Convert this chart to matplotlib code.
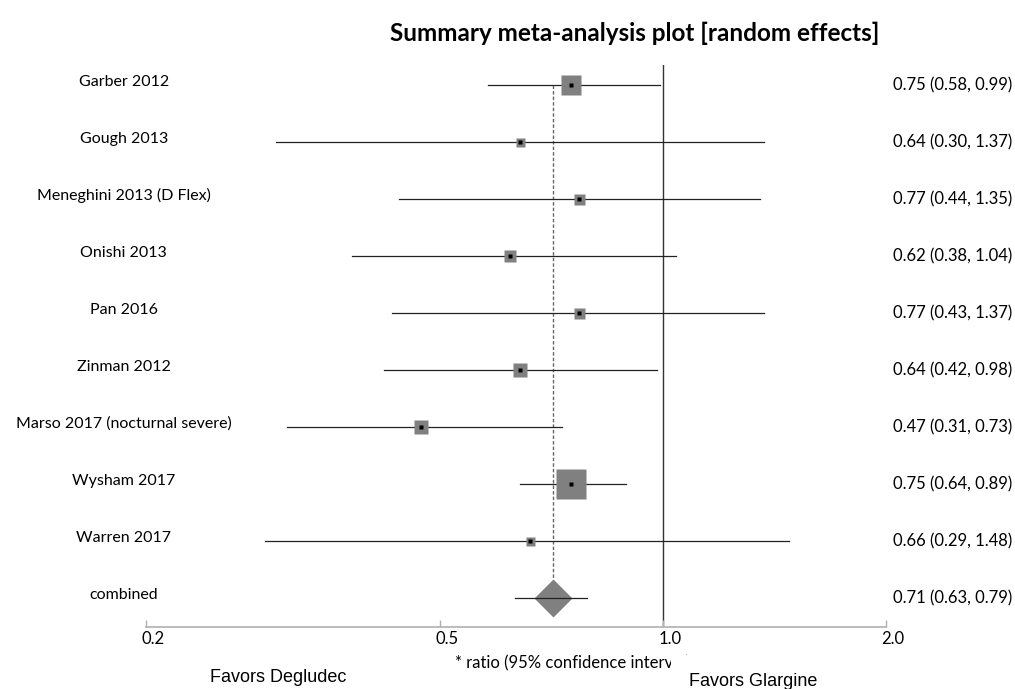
import numpy as np
import matplotlib
matplotlib.use("Agg")
import matplotlib.pyplot as plt
import matplotlib.transforms as mtransforms

# study data (ratio, lower, upper), box size in px
studies = ["Garber 2012", "Gough 2013", "Meneghini 2013 (D Flex)", "Onishi 2013",
           "Pan 2016", "Zinman 2012", "Marso 2017 (nocturnal severe)",
           "Wysham 2017", "Warren 2017"]
est = [0.75, 0.64, 0.77, 0.62, 0.77, 0.64, 0.47, 0.75, 0.66]
lo = [0.58, 0.30, 0.44, 0.38, 0.43, 0.42, 0.31, 0.64, 0.29]
hi = [0.99, 1.37, 1.35, 1.04, 1.37, 0.98, 0.73, 0.89, 1.48]
box_px = [20, 9, 11, 12, 11, 14, 14, 30, 9]

comb_label = "combined"
comb_est = 0.71
comb_lo = 0.63
comb_hi = 0.79

xticks = [0.2, 0.5, 1.0, 2.0]
xtick_labels = ["0.2", "0.5", "1.0", "2.0"]

font = "Lato"
W, H = 1015, 689
fig = plt.figure(figsize=(W / 100, H / 100), dpi=100)
ax = fig.add_axes([146 / W, 1 - 627 / H, (886 - 146) / W, (627 - 65) / H])
ax.set_xscale("log")
ax.set_xlim(0.2, 2.0)
n = len(studies)
ax.set_ylim(n + 0.509, -0.351)

px2pt = 72 / 100
for i in range(n):
    ax.plot([lo[i], hi[i]], [i, i], color="#222222", lw=0.9, zorder=2)
    ax.plot(est[i], i, marker="s", ms=box_px[i] * px2pt, color="#808080",
            mec="none", zorder=3)
    ax.plot(est[i], i, marker="s", ms=2.4, color="black", mec="none", zorder=4)
    ax.text(-0.03, i - 0.06, studies[i], transform=ax.get_yaxis_transform(),
            ha="center", va="center", fontsize=11.5, family=font)
    ax.text(1.0095, i, "%.2f (%.2f, %.2f)" % (est[i], lo[i], hi[i]),
            transform=ax.get_yaxis_transform(), ha="left", va="center",
            fontsize=12, family=font)

# combined
ax.plot([comb_lo, comb_hi], [n, n], color="#222222", lw=0.9, zorder=4)
ax.plot(comb_est, n, marker="D", ms=27 * px2pt, color="#808080", mec="none", zorder=3)
ax.text(-0.03, n - 0.06, comb_label, transform=ax.get_yaxis_transform(),
        ha="center", va="center", fontsize=11.5, family=font)
ax.text(1.0095, n, "%.2f (%.2f, %.2f)" % (comb_est, comb_lo, comb_hi),
        transform=ax.get_yaxis_transform(), ha="left", va="center",
        fontsize=12, family=font)

ax.plot([comb_est, comb_est], [0, n - 0.333], color="#666666", lw=1,
        ls=(0, (2.5, 1.5)), zorder=1)
ax.axvline(1.0, color="#333333", lw=1, zorder=1)

for s in ["top", "right", "left"]:
    ax.spines[s].set_visible(False)
ax.spines["bottom"].set_color("#b0b0b0")
ax.spines["bottom"].set_linewidth(1.2)
ax.set_yticks([])
ax.set_xticks(xticks)
ax.set_xticklabels(xtick_labels, family=font, fontsize=12)
ax.minorticks_off()
ax.tick_params(axis="x", direction="in", length=5, color="#b0b0b0", width=1, pad=3)
offset = mtransforms.ScaledTranslation(7 / 100, 0, fig.dpi_scale_trans)
for lab in ax.get_xticklabels():
    lab.set_transform(lab.get_transform() + offset)

fig.text(635 / W, 1 - 33 / H, "Summary meta-analysis plot [random effects]",
         ha="center", va="center", fontsize=17.5, fontweight="bold", family=font)
fig.text(455 / W, 1 - 663 / H, "* ratio (95% confidence interval)",
         ha="left", va="center", fontsize=12, family=font)
fig.text(278 / W, 1 - 678 / H, "Favors Degludec", ha="center", va="center",
         fontsize=13, family="Liberation Sans")
fig.text(753 / W, 1 - 682 / H, "Favors Glargine", ha="center", va="center",
         fontsize=13, family="Liberation Sans",
         bbox=dict(facecolor="white", edgecolor="none", boxstyle="square,pad=1.0"))

fig.savefig("out.png", dpi=100)
